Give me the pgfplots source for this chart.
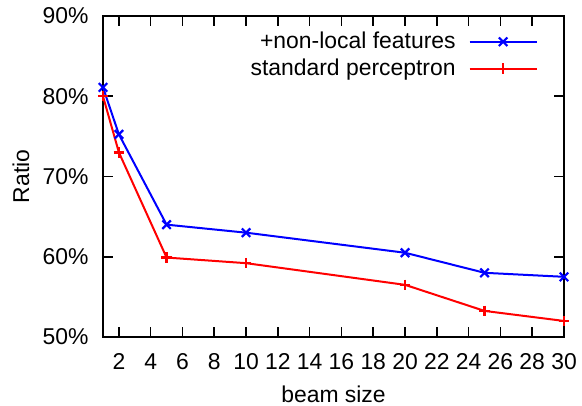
\documentclass[border=0pt]{standalone}
\usepackage{fontspec}
\setmainfont{Liberation Sans}
\usepackage{pgfplots}
\pgfplotsset{compat=1.18}
\begin{document}
\fontsize{11.5}{13.8}\selectfont
\begin{tikzpicture}
\begin{axis}[
  name=main,
  scale only axis,
  width=230.5bp, height=160.5bp,
  xmin=1, xmax=30, ymin=50, ymax=90,
  xtick={2,4,...,30},
  ytick={50,60,70,80,90},
  yticklabels={50\%,60\%,70\%,80\%,90\%},
  xticklabels={2,4,6,8,10,12,14,16,18,20,22,24,26,28,30},
  x tick label style={anchor=north, inner sep=0pt, yshift=-8bp},
  y tick label style={anchor=east, inner sep=0pt, xshift=-7bp},
  tick align=inside,
  major tick length=5bp,
  axis line style={line width=1bp},
  every tick/.style={black, line width=0.8bp},
  xlabel={beam size}, ylabel={Ratio},
  xlabel style={at={(axis description cs:0.5,-0.2056)}, anchor=base, inner sep=0pt},
  ylabel style={at={(axis description cs:-0.1605,0.5)}, anchor=base, inner sep=0pt},
  legend plot pos=right,
  legend cell align=right,
  legend style={draw=none, fill=none, at={(1,1)}, anchor=north east,
    xshift=-10bp, yshift=-2.5bp, row sep=-3bp, column sep=4.5bp,
    nodes={inner ysep=3.2bp},
    font=\fontsize{11.5}{13.8}\selectfont},
  legend image code/.code={\draw[#1] plot coordinates {(0bp,0bp)(16.75bp,0bp)(33.5bp,0bp)};},
  legend image post style={mark repeat=2, mark phase=2},
]
\addplot[blue, line width=1bp, mark=x, mark size=3.0bp, mark options={line width=1.1bp}]
  coordinates {(1,81.1) (2,75.25) (5,64.0) (10,63.0) (20,60.5) (25,58.0) (30,57.5)};
\addlegendentry{+non-local features}
\addplot[red, line width=1bp, mark=+, mark size=2.6bp, mark options={line width=1.1bp}]
  coordinates {(1,80.0) (2,73.0) (5,59.9) (10,59.2) (20,56.5) (25,53.25) (30,52.0)};
\addlegendentry{standard perceptron}
\end{axis}
\pgfresetboundingbox
\path[use as bounding box] ([shift={(-51.5bp,-34.5bp)}]main.south west)
  rectangle ([shift={(239.5bp,168.5bp)}]main.south west);
\end{tikzpicture}
\end{document}
